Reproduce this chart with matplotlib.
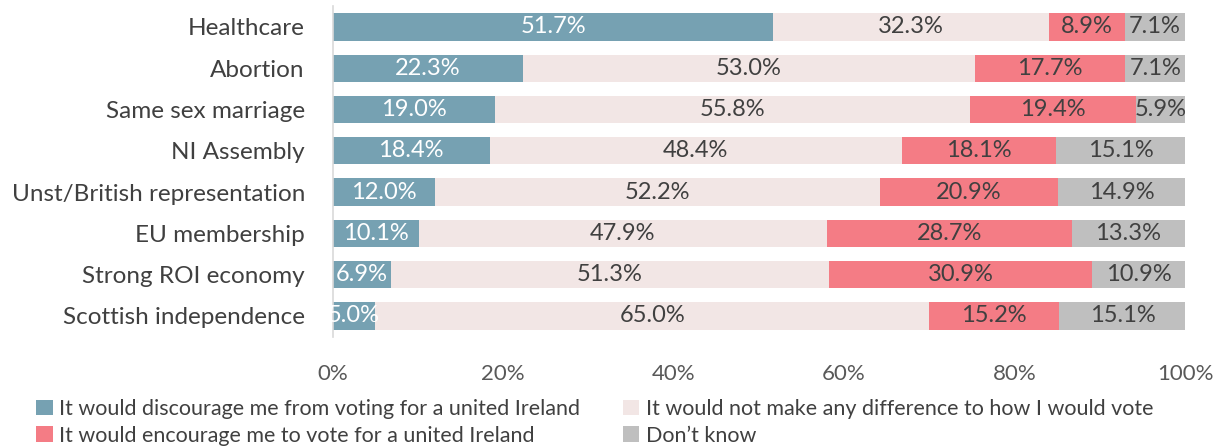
import matplotlib
matplotlib.use("Agg")
import matplotlib.pyplot as plt
from matplotlib.patches import Patch

categories = ["Healthcare", "Abortion", "Same sex marriage", "NI Assembly",
              "Unst/British representation", "EU membership",
              "Strong ROI economy", "Scottish independence"]
discourage = [51.7, 22.3, 19.0, 18.4, 12.0, 10.1, 6.9, 5.0]
no_difference = [32.3, 53.0, 55.8, 48.4, 52.2, 47.9, 51.3, 65.0]
encourage = [8.9, 17.7, 19.4, 18.1, 20.9, 28.7, 30.9, 15.2]
dont_know = [7.1, 7.1, 5.9, 15.1, 14.9, 13.3, 10.9, 15.1]
series_names = ["It would discourage me from voting for a united Ireland",
                "It would not make any difference to how I would vote",
                "It would encourage me to vote for a united Ireland",
                "Don\u2019t know"]
x_ticks = [0, 20, 40, 60, 80, 100]

colors = ["#76A1B2", "#F2E6E5", "#F47C85", "#BFBFBF"]
text_colors = ["white", "#404040", "#404040", "#404040"]
plt.rcParams['font.family'] = ['Lato', 'DejaVu Sans']

fig = plt.figure(figsize=(12.23, 4.47), dpi=100)
ax = fig.add_axes([0.272, 0.247, 0.697, 0.739])

series = [discourage, no_difference, encourage, dont_know]
ypos = list(range(len(categories)))
left = [0.0] * len(categories)
for s, vals in enumerate(series):
    ax.barh(ypos, vals, left=left, height=0.66, color=colors[s], edgecolor='none')
    for i, v in enumerate(vals):
        ax.text(left[i] + v / 2, ypos[i], f"{v:.1f}%", ha='center', va='center',
                fontsize=17, color=text_colors[s])
    left = [l + v for l, v in zip(left, vals)]

ax.set_ylim(len(categories) - 0.5, -0.5)
ax.set_xlim(0, 100)
ax.set_yticks(ypos)
ax.set_yticklabels(categories, fontsize=17.5, color='#404040')
ax.set_xticks(x_ticks)
ax.set_xticklabels([f"{t}%" for t in x_ticks], fontsize=16, color='#595959')
ax.tick_params(axis='both', length=0)
ax.tick_params(axis='x', pad=20)
ax.tick_params(axis='y', pad=20)
for sp in ['top', 'right', 'bottom']:
    ax.spines[sp].set_visible(False)
ax.spines['left'].set_color('#D9D9D9')
ax.spines['left'].set_linewidth(1.2)

handles = [Patch(facecolor=c, edgecolor='none') for c in colors]
order = [0, 2, 1, 3]
fig.legend([handles[i] for i in order], [series_names[i] for i in order],
           loc='lower left', bbox_to_anchor=(0.014, -0.04), ncol=2, frameon=False,
           fontsize=15.5, handlelength=0.75, handleheight=0.75, handletextpad=0.3,
           columnspacing=2.0, labelspacing=0.3, labelcolor='#404040')

fig.savefig("out.png", dpi=100)
